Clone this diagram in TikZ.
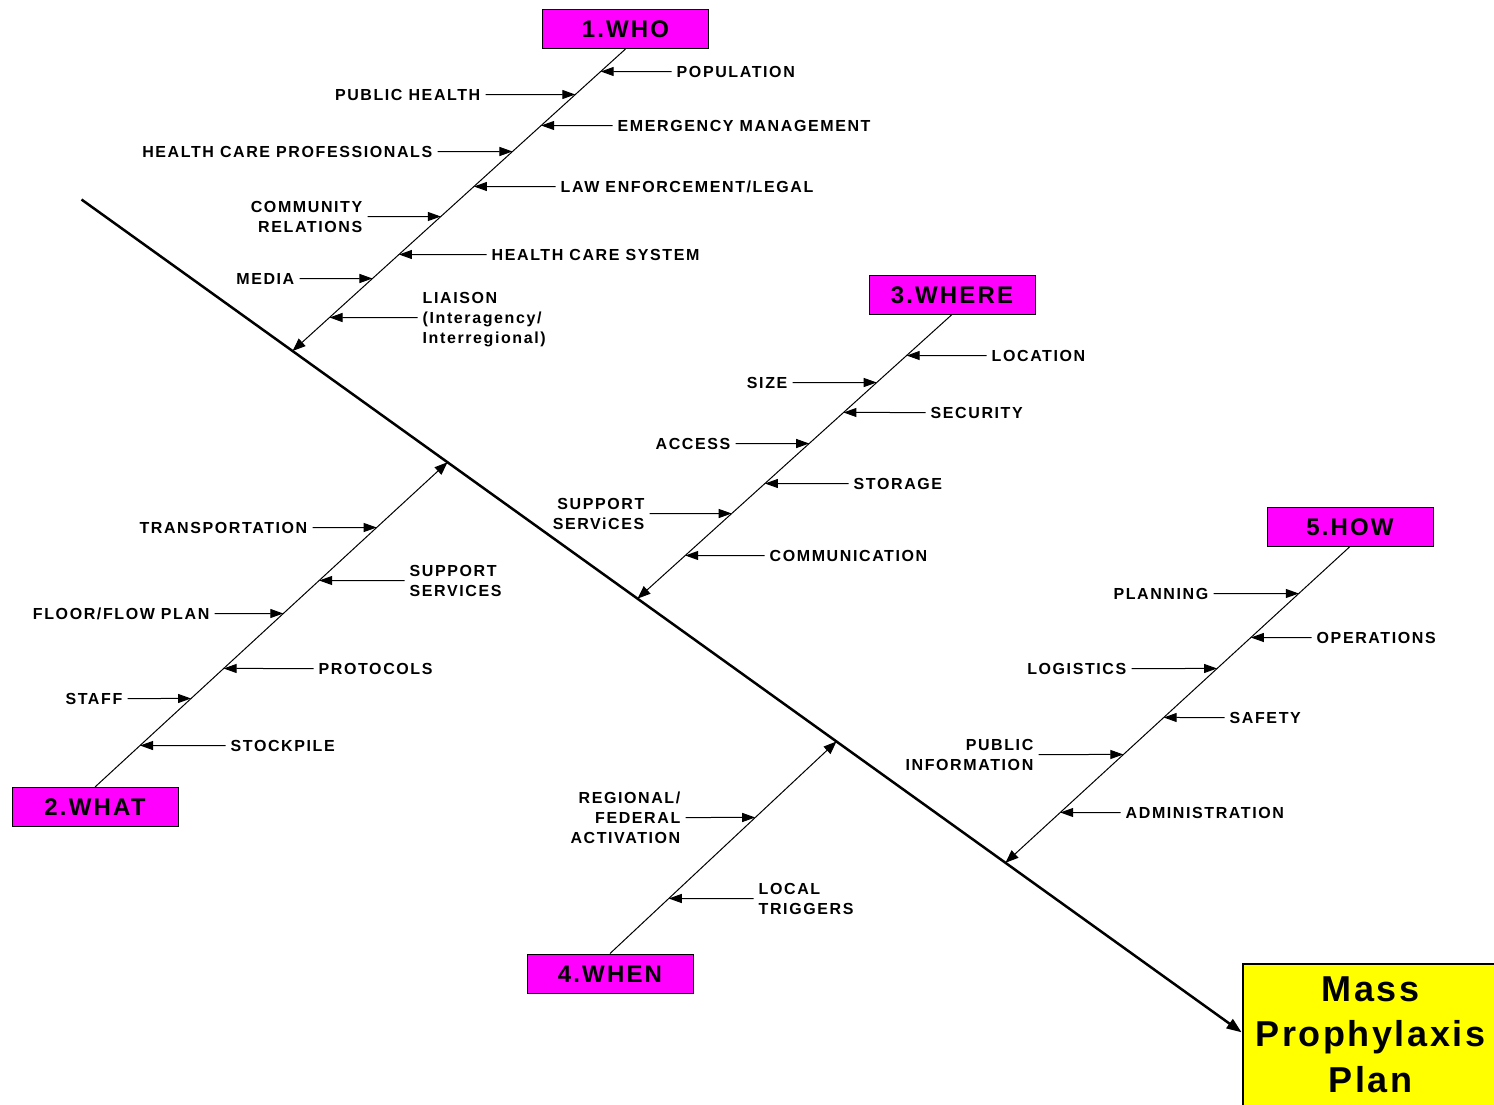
\documentclass[tikz,border=0pt]{standalone}
\usepackage{fontspec}
\usetikzlibrary{arrows.meta,calc}
\newfontfamily\lblfont{Liberation Sans}[LetterSpace=10]
\newfontfamily\catfont{Liberation Sans}[LetterSpace=9]
\newfontfamily\planfont{Liberation Sans}[LetterSpace=7]
\definecolor{catfill}{RGB}{255,0,255}
\definecolor{planfill}{RGB}{255,255,0}
% arrow from a label to the bone it feeds
\newcommand\twigR[3]{\draw[twig] (#1.west) -- (intersection of #1.west--#1.east and #2--#3);}
\newcommand\twigL[3]{\draw[twig] (#1.east) -- (intersection of #1.east--#1.west and #2--#3);}
\begin{document}
\begin{tikzpicture}[x=1pt,y=-1pt,
  catbox/.style={draw=black, line width=1pt, fill=catfill, minimum width=166pt, minimum height=39pt,
    inner sep=0pt, text height=17pt, text depth=0pt, font=\catfont\bfseries\fontsize{24}{28}\selectfont},
  planbox/.style={draw=black, line width=2pt, fill=planfill, anchor=north west, minimum width=256pt,
    minimum height=161pt, inner sep=0pt, align=center, text height=117pt, text depth=21pt,
    font=\planfont\bfseries\fontsize{36}{45.5}\selectfont},
  lbl/.style={inner xsep=5pt, inner ysep=0pt, text height=11.4pt, text depth=0pt,
    font=\lblfont\bfseries\fontsize{16}{20}\selectfont},
  lblR/.style={lbl, anchor=west, align=left},
  lblL/.style={lbl, anchor=east, align=right},
  twolines/.style={text height=31.4pt},
  threelines/.style={text height=51.4pt},
  spineline/.style={line width=2.5pt, -{Triangle[length=15pt,width=11pt]}},
  boneline/.style={line width=1pt, -{Triangle[length=13pt,width=10pt]}},
  twig/.style={line width=1pt, -{Triangle[length=13pt,width=9pt]}},
]
\clip (0,0) rectangle (1494,1104);
\fill[white] (0,0) rectangle (1494,1104);

% half-pixel offset keeps the thin horizontal rules crisp
\begin{scope}[shift={(0.5,0.5)}]
% main spine and effect box
\coordinate (tail) at (81,199);
\coordinate (aim) at (1240,1031);
\node[planbox] (plan) at (1241,962) {Mass\\Prophylaxis\\Plan};
\draw[spineline] (tail) -- (intersection of tail--aim and plan.north west--plan.south west);

% roots of the bones on the spine
\coordinate (whoroot)   at ($(tail)!0.1821!(aim)$);
\coordinate (whatroot)  at ($(tail)!0.3158!(aim)$);
\coordinate (whereroot) at ($(tail)!0.4797!(aim)$);
\coordinate (whenroot)  at ($(tail)!0.6514!(aim)$);
\coordinate (howroot)   at ($(tail)!0.7972!(aim)$);

% category boxes
\node[catbox] (who)   at (625,28.5)   {1.WHO};
\node[catbox] (what)  at (94.5,806.5) {2.WHAT};
\node[catbox] (where) at (951.5,294)  {3.WHERE};
\node[catbox] (when)  at (609.5,973)  {4.WHEN};
\node[catbox] (how)   at (1349.5,526) {5.HOW};

\draw[boneline] (who.south)   -- (whoroot);
\draw[boneline] (what.north)  -- (whatroot);
\draw[boneline] (where.south) -- (whereroot);
\draw[boneline] (when.north)  -- (whenroot);
\draw[boneline] (how.south)   -- (howroot);

% 1. WHO
\node[lblR] (pop)   at (671,71)  {POPULATION};
\node[lblL] (pubh)  at (485,94)  {PUBLIC HEALTH};
\node[lblR] (emerg) at (612,125) {EMERGENCY MANAGEMENT};
\node[lblL] (hcp)   at (437,151) {HEALTH CARE PROFESSIONALS};
\node[lblR] (law)   at (555,186) {LAW ENFORCEMENT/LEGAL};
\node[lblL,twolines] (comm) at (367,216) {COMMUNITY\\RELATIONS};
\node[lblR] (hcs)   at (486,254) {HEALTH CARE SYSTEM};
\node[lblL] (media) at (299,278) {MEDIA};
\node[lblR,threelines] (liaison) at (417,317) {LIAISON\\(Interagency/\\Interregional)};
\twigR{pop}{who.south}{whoroot}
\twigL{pubh}{who.south}{whoroot}
\twigR{emerg}{who.south}{whoroot}
\twigL{hcp}{who.south}{whoroot}
\twigR{law}{who.south}{whoroot}
\twigL{comm}{who.south}{whoroot}
\twigR{hcs}{who.south}{whoroot}
\twigL{media}{who.south}{whoroot}
\twigR{liaison}{who.south}{whoroot}

% 2. WHAT
\node[lblL] (transp) at (312,527) {TRANSPORTATION};
\node[lblR,twolines] (suppw) at (404,580) {SUPPORT\\SERVICES};
\node[lblL] (floor)  at (214,613) {FLOOR/FLOW PLAN};
\node[lblR] (proto)  at (313,668) {PROTOCOLS};
\node[lblL] (staff)  at (127,698) {STAFF};
\node[lblR] (stock)  at (225,745) {STOCKPILE};
\twigL{transp}{what.north}{whatroot}
\twigR{suppw}{what.north}{whatroot}
\twigL{floor}{what.north}{whatroot}
\twigR{proto}{what.north}{whatroot}
\twigL{staff}{what.north}{whatroot}
\twigR{stock}{what.north}{whatroot}

% 3. WHERE
\node[lblR] (loc)    at (986,355) {LOCATION};
\node[lblL] (size)   at (792,382) {SIZE};
\node[lblR] (secur)  at (925,412) {SECURITY};
\node[lblL] (access) at (735,443) {ACCESS};
\node[lblR] (stor)   at (848,483) {STORAGE};
\node[lblL,twolines] (suppr) at (649,513) {SUPPORT\\SERViCES};
\node[lblR] (commu)  at (764,555) {COMMUNICATION};
\twigR{loc}{where.south}{whereroot}
\twigL{size}{where.south}{whereroot}
\twigR{secur}{where.south}{whereroot}
\twigL{access}{where.south}{whereroot}
\twigR{stor}{where.south}{whereroot}
\twigL{suppr}{where.south}{whereroot}
\twigR{commu}{where.south}{whereroot}

% 4. WHEN
\node[lblL,threelines] (regfed) at (685,817) {REGIONAL/\\FEDERAL\\ACTIVATION};
\node[lblR,twolines] (local) at (753,898) {LOCAL\\TRIGGERS};
\twigL{regfed}{when.north}{whenroot}
\twigR{local}{when.north}{whenroot}

% 5. HOW
\node[lblL] (planning) at (1213,593) {PLANNING};
\node[lblR] (oper)     at (1311,637) {OPERATIONS};
\node[lblL] (logis)    at (1131,668) {LOGISTICS};
\node[lblR] (safety)   at (1224,717) {SAFETY};
\node[lblL,twolines] (pubinfo) at (1038,754) {PUBLIC\\INFORMATION};
\node[lblR] (admin)    at (1120,812) {ADMINISTRATION};
\twigL{planning}{how.south}{howroot}
\twigR{oper}{how.south}{howroot}
\twigL{logis}{how.south}{howroot}
\twigR{safety}{how.south}{howroot}
\twigL{pubinfo}{how.south}{howroot}
\twigR{admin}{how.south}{howroot}
\end{scope}
\end{tikzpicture}
\end{document}
